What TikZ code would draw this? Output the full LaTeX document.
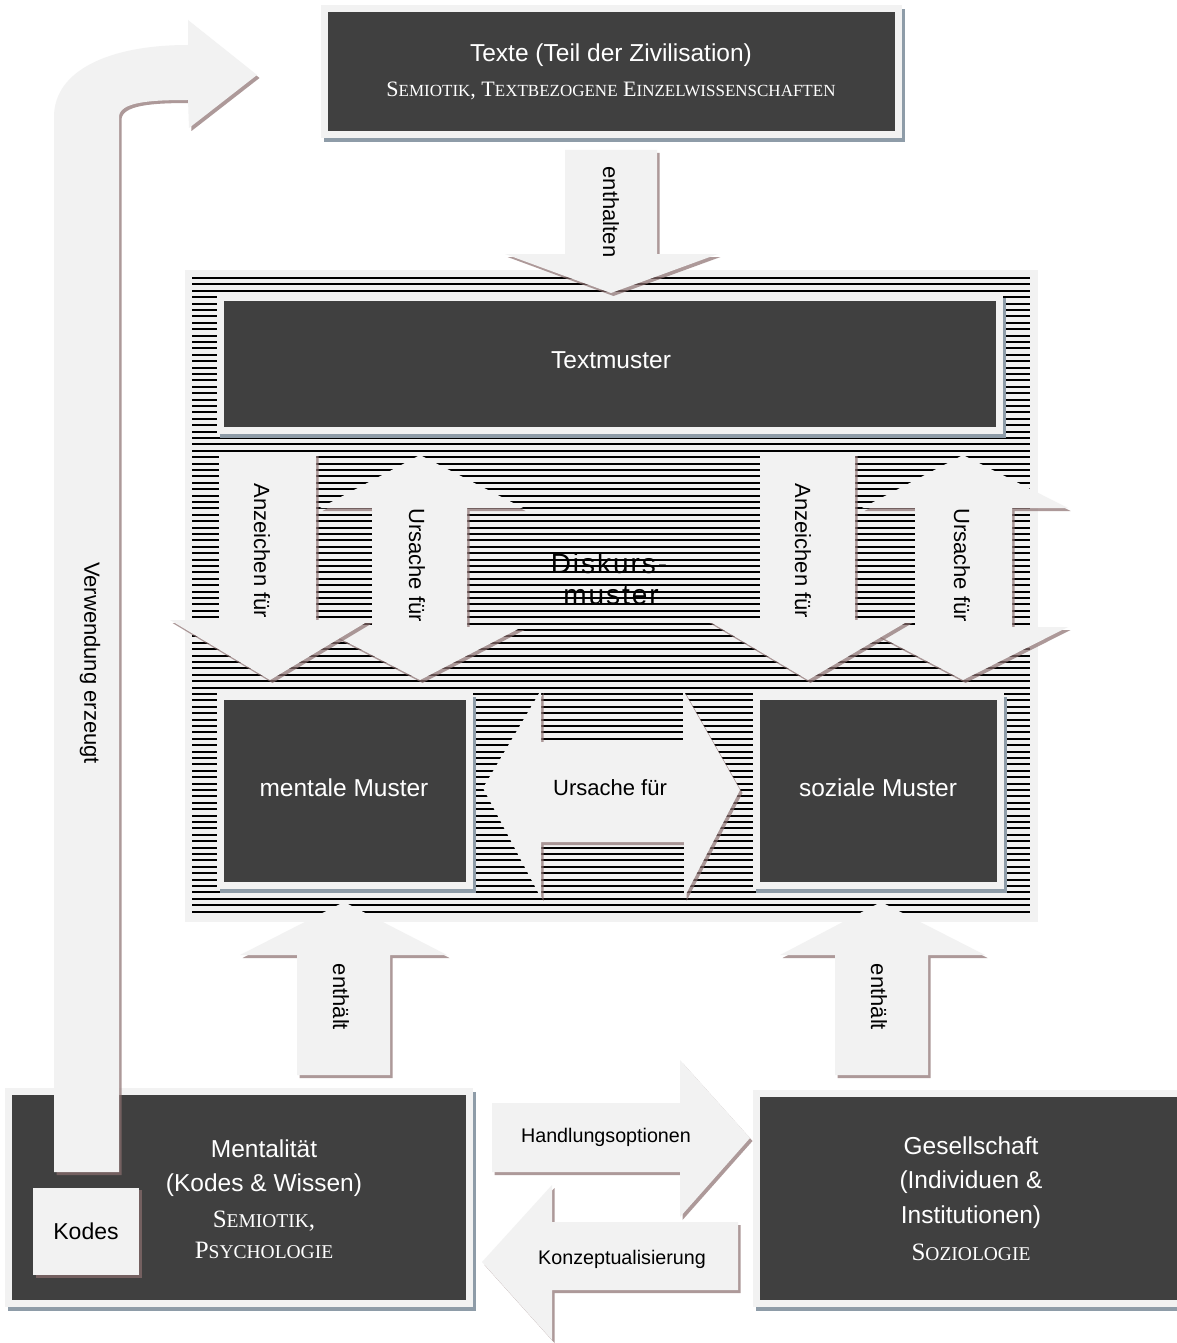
\documentclass[tikz,border=0pt]{standalone}
\usepackage{fontspec}
\setmainfont{Liberation Sans}
\newfontfamily\scserif{Liberation Serif}
\newfontfamily\spacedsans[LetterSpace=7]{Liberation Sans}
\usetikzlibrary{fit}
\definecolor{darkfill}{HTML}{404040}
\definecolor{lightfill}{HTML}{F2F2F2}
\definecolor{shblue}{HTML}{8E9CA8}
\definecolor{shrose}{HTML}{8B6F6F}
\newcommand{\bigT}{\fontsize{24.5}{30}\selectfont}
\newcommand{\lblT}{\fontsize{22}{26}\selectfont}
\newcommand{\lblS}{\fontsize{19.7}{24}\selectfont}
\newcommand{\scA}[2]{#1{\fontsize{17}{20}\selectfont #2}}
\newcommand{\scB}[2]{#1{\fontsize{19.5}{24}\selectfont #2}}
\newcommand{\blockarrow}[1]{%
  \fill[shrose, opacity=0.7, shift={(2.5,3)}] #1 -- cycle;
  \fill[lightfill] #1 -- cycle;}
\newcommand{\panel}[5]{%
  \fill[shblue] (#2-4,#3-3) rectangle (#4+10,#5+11);
  \fill[lightfill] (#2-7,#3-7) rectangle (#4+7,#5+7);
  \node[fit={(#2,#3) (#4,#5)}, inner sep=0pt, fill=darkfill] (#1) {};}
\tikzset{
  boxtitle/.style={text=white, font=\bigT, inner sep=0pt},
  arrowlabel/.style={text=black, font=\lblT, inner sep=0pt},
  stripe/.style={line width=2pt, black},
  subtitle/.style={text=white, inner sep=0pt},
}
\begin{document}
\begin{tikzpicture}[x=1pt,y=-1pt]
\useasboundingbox (0,0) rectangle (1176,1343);
\fill[white] (0,0) rectangle (1176,1343);

% ---- discourse field with stripes
\fill[lightfill] (185,270) rectangle (1038,922);
\node[font=\spacedsans\fontsize{28}{31}\selectfont, anchor=base, inner sep=0pt] (disk1) at (609,573) {Diskurs-};
\node[font=\spacedsans\fontsize{28}{31}\selectfont, anchor=base, inner sep=0pt] (disk2) at (611,604) {muster};
\foreach \k in {0,...,99} \draw[stripe] (192,{278+6.4*\k}) -- (1030,{278+6.4*\k});

% ---- Textmuster
\panel{textmuster}{224}{301}{996}{427}
\node[boxtitle] (tmlabel) at (611,360) {Textmuster};

% ---- mental / social patterns
\panel{mental}{224}{700}{466}{882}
\node[boxtitle] (mentallabel) at (344,788) {mentale Muster};
\panel{sozial}{760}{700}{997}{882}
\node[boxtitle] (soziallabel) at (878,788) {soziale Muster};

% ---- arrows inside field
\blockarrow{(420,455) -- (523,508) -- (467,508) -- (467,627) -- (522,627) -- (420,680) -- (318,627) -- (372,627) -- (372,508) -- (320,508)}
\blockarrow{(219,453) -- (316,453) -- (316,620) -- (370,620) -- (270,680) -- (170,620) -- (219,620)}
\node[arrowlabel, rotate=-90] (anzL) at (262,551) {Anzeichen für};
\node[arrowlabel, rotate=-90] (ursL) at (417,565) {Ursache für};

\blockarrow{(963,455) -- (1068,508) -- (1012,508) -- (1012,627) -- (1068,627) -- (963,680) -- (862,627) -- (915,627) -- (915,508) -- (862,508)}
\blockarrow{(760,453) -- (855,453) -- (855,620) -- (910,620) -- (808,680) -- (707,620) -- (760,620)}
\node[arrowlabel, rotate=-90] (anzR) at (803,551) {Anzeichen für};
\node[arrowlabel, rotate=-90] (ursR) at (962,565) {Ursache für};

\blockarrow{(483,788) -- (541,690) -- (541,742) -- (683,742) -- (683,690) -- (740,790) -- (684,898) -- (684,842) -- (541,842) -- (541,898)}
\node[arrowlabel] (ursH) at (610,788) {Ursache für};

% ---- top box
\panel{texte}{328}{12}{895}{131}
\node[boxtitle] (textetitle) at (611,55) {Texte (Teil der Zivilisation)};
\node[subtitle, font=\scserif\fontsize{22}{26}\selectfont] (textesub) at (611,91) {\scA{S}{EMIOTIK}, \scA{T}{EXTBEZOGENE} \scA{E}{INZELWISSENSCHAFTEN}};

\blockarrow{(565,150) -- (657,150) -- (657,254) -- (718,254) -- (611,293) -- (505,254) -- (565,254)}
\node[arrowlabel, rotate=-90] (enthalten) at (611,212) {enthalten};

% ---- enthaelt arrows
\blockarrow{(344,902) -- (447,955) -- (390,955) -- (390,1075) -- (297,1075) -- (297,955) -- (240,955)}
\node[arrowlabel, rotate=-90] (enthaeltL) at (341,997) {enthält};
\blockarrow{(881,902) -- (985,955) -- (928,955) -- (928,1075) -- (835,1075) -- (835,955) -- (780,955)}
\node[arrowlabel, rotate=-90] (enthaeltR) at (879,997) {enthält};

% ---- bottom boxes
\panel{mentalitaet}{12}{1095}{466}{1300}
\node[boxtitle] (ment1) at (264,1149) {Mentalität};
\node[boxtitle] (ment2) at (264,1185) {(Kodes \& Wissen)};
\node[subtitle, font=\scserif\fontsize{25}{30}\selectfont] (ment3) at (264,1221) {\scB{S}{EMIOTIK},};
\node[subtitle, font=\scserif\fontsize{25}{30}\selectfont] (ment4) at (264,1250) {\scB{P}{SYCHOLOGIE}};

\panel{gesellschaft}{760}{1097}{1190}{1300}
\node[boxtitle] (ges1) at (971,1146) {Gesellschaft};
\node[boxtitle] (ges2) at (971,1182) {(Individuen \&};
\node[boxtitle] (ges3) at (971,1217) {Institutionen)};
\node[subtitle, font=\scserif\fontsize{25}{30}\selectfont] (ges4) at (971,1252) {\scB{S}{OZIOLOGIE}};

% ---- horizontal arrows
\blockarrow{(738,1222) -- (738,1290) -- (552,1290) -- (552,1340) -- (482,1262) -- (552,1185) -- (552,1222)}
\node[arrowlabel, font=\lblS] (konz) at (622,1259) {Konzeptualisierung};
\blockarrow{(492,1103) -- (680,1103) -- (680,1060) -- (750,1138) -- (680,1217) -- (680,1172) -- (492,1172)}
\node[arrowlabel, font=\lblS] (handl) at (606,1137) {Handlungsoptionen};

% ---- bent arrow
\blockarrow{(54,1172) -- (54,117) .. controls (54,70) and (110,45) .. (188,45) -- (188,20) -- (257,75) -- (189,128) -- (188,100) .. controls (150,100) and (119,102) .. (119,117) -- (119,1172)}
\node[arrowlabel, rotate=-90] (verwendung) at (90,663) {Verwendung erzeugt};

% ---- Kodes
\fill[shrose, opacity=0.7] (36,1190) rectangle (142,1278);
\node[fill=lightfill, minimum width=106pt, minimum height=87pt, inner sep=0pt, font=\fontsize{23}{27}\selectfont] (kodes) at (86,1231) {Kodes};
\end{tikzpicture}
\end{document}
